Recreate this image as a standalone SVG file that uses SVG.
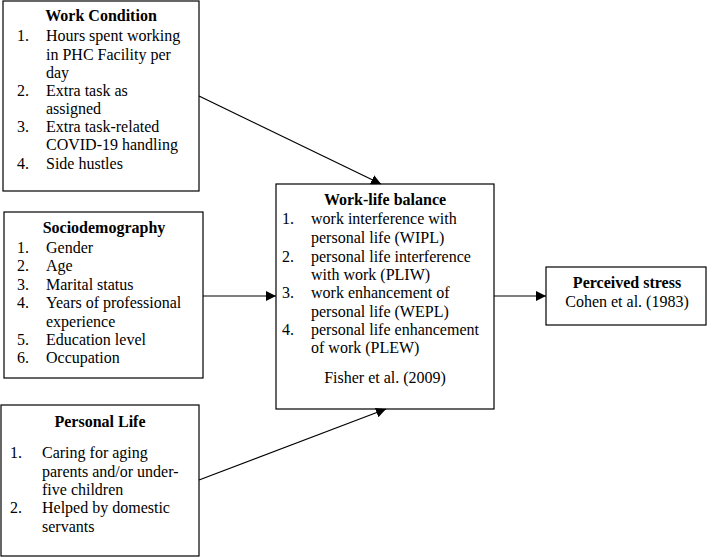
<svg xmlns="http://www.w3.org/2000/svg" width="709" height="558" viewBox="0 0 709 558">
<defs>
<style>
.box{fill:#fff;stroke:#000;stroke-width:1.2}
text{font-family:"Liberation Serif","Times New Roman",serif;font-size:16px;fill:#000}
.t{font-weight:bold;text-anchor:middle}
.c{text-anchor:middle}
.con{stroke:#000;stroke-width:1.2;fill:none;marker-end:url(#ah)}
</style>
<marker id="ah" viewBox="0 0 10 10" refX="10" refY="5" markerWidth="10" markerHeight="10" markerUnits="userSpaceOnUse" orient="auto">
<path d="M0,0 L10,5 L0,10 Z" fill="#000"/>
</marker>
</defs>
<rect width="709" height="558" fill="#fff"/>
<g id="work-condition">
<rect class="box" x="3" y="1" width="196" height="190"/>
<text class="t" x="101" y="21">Work Condition</text>
<text x="17" y="41">1.</text><text x="46" y="41">Hours spent working</text>
<text x="46" y="60">in PHC Facility per</text>
<text x="46" y="78">day</text>
<text x="17" y="96">2.</text><text x="46" y="96">Extra task as</text>
<text x="46" y="114">assigned</text>
<text x="17" y="132">3.</text><text x="46" y="132">Extra task-related</text>
<text x="46" y="150">COVID-19 handling</text>
<text x="17" y="169">4.</text><text x="46" y="169">Side hustles</text>
</g>
<g id="sociodemography">
<rect class="box" x="4" y="212" width="199" height="166"/>
<text class="t" x="104" y="233">Sociodemography</text>
<text x="17" y="253">1.</text><text x="46" y="253">Gender</text>
<text x="17" y="271">2.</text><text x="46" y="271">Age</text>
<text x="17" y="290">3.</text><text x="46" y="290">Marital status</text>
<text x="17" y="308">4.</text><text x="46" y="308">Years of professional</text>
<text x="46" y="327">experience</text>
<text x="17" y="345">5.</text><text x="46" y="345">Education level</text>
<text x="17" y="363">6.</text><text x="46" y="363">Occupation</text>
</g>
<g id="personal-life">
<rect class="box" x="1" y="405" width="198" height="151"/>
<text class="t" x="100" y="427">Personal Life</text>
<text x="10" y="458">1.</text><text x="42" y="458">Caring for aging</text>
<text x="42" y="477">parents and/or under-</text>
<text x="42" y="495">five children</text>
<text x="10" y="513">2.</text><text x="42" y="513">Helped by domestic</text>
<text x="42" y="532">servants</text>
</g>
<g id="work-life-balance">
<rect class="box" x="276" y="184" width="218" height="225"/>
<text class="t" x="385" y="205">Work-life balance</text>
<text x="282" y="224">1.</text><text x="311" y="224">work interference with</text>
<text x="311" y="243">personal life (WIPL)</text>
<text x="282" y="262">2.</text><text x="311" y="262">personal life interference</text>
<text x="311" y="280">with work (PLIW)</text>
<text x="282" y="298">3.</text><text x="311" y="298">work enhancement of</text>
<text x="311" y="317">personal life (WEPL)</text>
<text x="282" y="335">4.</text><text x="311" y="335">personal life enhancement</text>
<text x="311" y="353">of work (PLEW)</text>
<text class="c" x="385" y="383">Fisher et al. (2009)</text>
</g>
<g id="perceived-stress">
<rect class="box" x="546" y="267" width="160" height="58"/>
<text class="t" x="627" y="288">Perceived stress</text>
<text class="c" x="627" y="307">Cohen et al. (1983)</text>
</g>
<g id="connectors">
<line class="con" x1="199" y1="96" x2="381" y2="184"/>
<line class="con" x1="203" y1="296" x2="276" y2="296"/>
<line class="con" x1="199" y1="480" x2="386" y2="409"/>
<line class="con" x1="494" y1="296" x2="546" y2="296"/>
</g>
</svg>
